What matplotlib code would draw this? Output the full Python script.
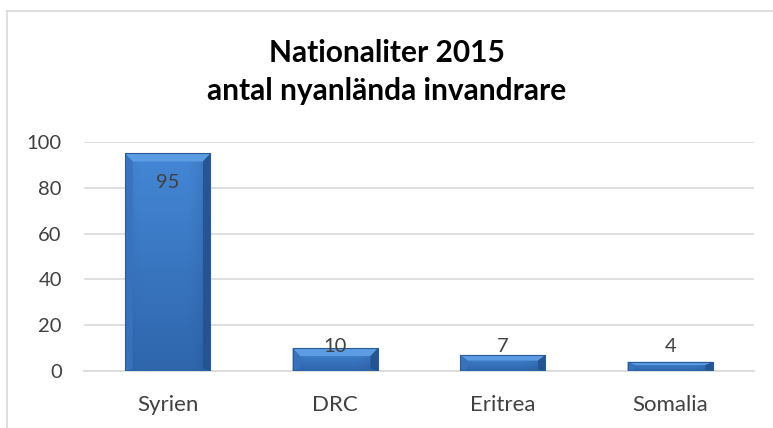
import matplotlib
matplotlib.use("Agg")
import matplotlib.pyplot as plt
import numpy as np
from matplotlib.colors import to_rgb
from matplotlib.patches import Polygon
from matplotlib.lines import Line2D

# chart data
countries = ["Syrien", "DRC", "Eritrea", "Somalia"]
values = [95, 10, 7, 4]
yticks = [0, 20, 40, 60, 80, 100]

plt.rcParams['font.family'] = ['Lato', 'DejaVu Sans']

fig = plt.figure(figsize=(7.73, 4.28), dpi=100)
ax = fig.add_axes([0.1087, 0.1332, 0.8667, 0.535])

x = np.arange(len(countries))
bars = ax.bar(x, values, width=0.51, color='none', edgecolor='none', zorder=3)

ax.set_xlim(-0.5, len(countries) - 0.5)
ax.set_ylim(0, 100)
ax.set_yticks(yticks)
ax.set_xticks(x)
ax.set_xticklabels(countries)
ax.tick_params(axis='both', length=0, colors='#404040')
ax.tick_params(axis='y', pad=16, labelsize=14.5)
ax.tick_params(axis='x', pad=17, labelsize=16)
ax.yaxis.grid(True, color='#D9D9D9', linewidth=1.2, zorder=0)
ax.set_axisbelow(True)
for s in ['top', 'right', 'left']:
    ax.spines[s].set_visible(False)
ax.spines['bottom'].set_color('#D9D9D9')
ax.spines['bottom'].set_linewidth(1.2)

# fake bevelled gradient fill for each bar
top_c = np.array(to_rgb('#4487D6'))
bot_c = np.array(to_rgb('#2F66AC'))
edge_dark = np.array(to_rgb('#234F8A'))
bev_x = 0.045  # bevel width in data units (x)
bev_y = 3.5    # bevel height in data units (y)
for rect in bars:
    x0, w, h = rect.get_x(), rect.get_width(), rect.get_height()
    ny, nx = 60, 40
    t = np.linspace(0, 1, ny)[:, None]
    s = np.linspace(0, 1, nx)[None, :]
    base = top_c * (1 - t[..., None]) + bot_c * t[..., None]
    side = np.abs(s - 0.45) * 2
    shade = np.clip(side - 0.6, 0, 1)[..., None] * 0.6
    img = base * (1 - shade) + edge_dark * shade
    im = ax.imshow(img, extent=[x0, x0 + w, 0, h], aspect='auto',
                   origin='upper', zorder=3, interpolation='bilinear')
    im.set_clip_path(rect)
    by = min(bev_y, h * 0.35)
    bx = min(bev_x, w * 0.2)
    # top bevel (light)
    ax.add_patch(Polygon([[x0, h], [x0 + w, h], [x0 + w - bx, h - by], [x0 + bx, h - by]],
                         closed=True, facecolor='#5C9CE2', edgecolor='none', zorder=4))
    # left bevel
    ax.add_patch(Polygon([[x0, h], [x0 + bx, h - by], [x0 + bx, by * 0.3], [x0, 0]],
                         closed=True, facecolor='#3A72BC', edgecolor='none', zorder=4, alpha=0.9))
    # right bevel (dark)
    ax.add_patch(Polygon([[x0 + w, h], [x0 + w - bx, h - by], [x0 + w - bx, by * 0.3], [x0 + w, 0]],
                         closed=True, facecolor='#24528F', edgecolor='none', zorder=4, alpha=0.9))
    ax.add_patch(plt.Rectangle((x0, 0), w, h, facecolor='none', edgecolor='#2A5A98',
                               linewidth=0.8, zorder=5))

# value labels
for xi, v in zip(x, values):
    ax.text(xi, max(v - 12.5, 10.8), str(v), ha='center', va='center',
            fontsize=14.5, color='#404040', zorder=6)

fig.text(0.5, 0.832, "Nationaliter 2015\nantal nyanlända invandrare",
         ha='center', va='center', fontsize=21.5, fontweight='bold',
         linespacing=1.4, color='black')

# outer chart frame (partly cut by the image edge)
fig.add_artist(Line2D([0.009, 0.009], [0, 0.974], transform=fig.transFigure,
                      color='#D9D9D9', linewidth=1.2))
fig.add_artist(Line2D([0.009, 1.0], [0.974, 0.974], transform=fig.transFigure,
                      color='#D9D9D9', linewidth=1.2))

fig.savefig('out.png', dpi=100)
